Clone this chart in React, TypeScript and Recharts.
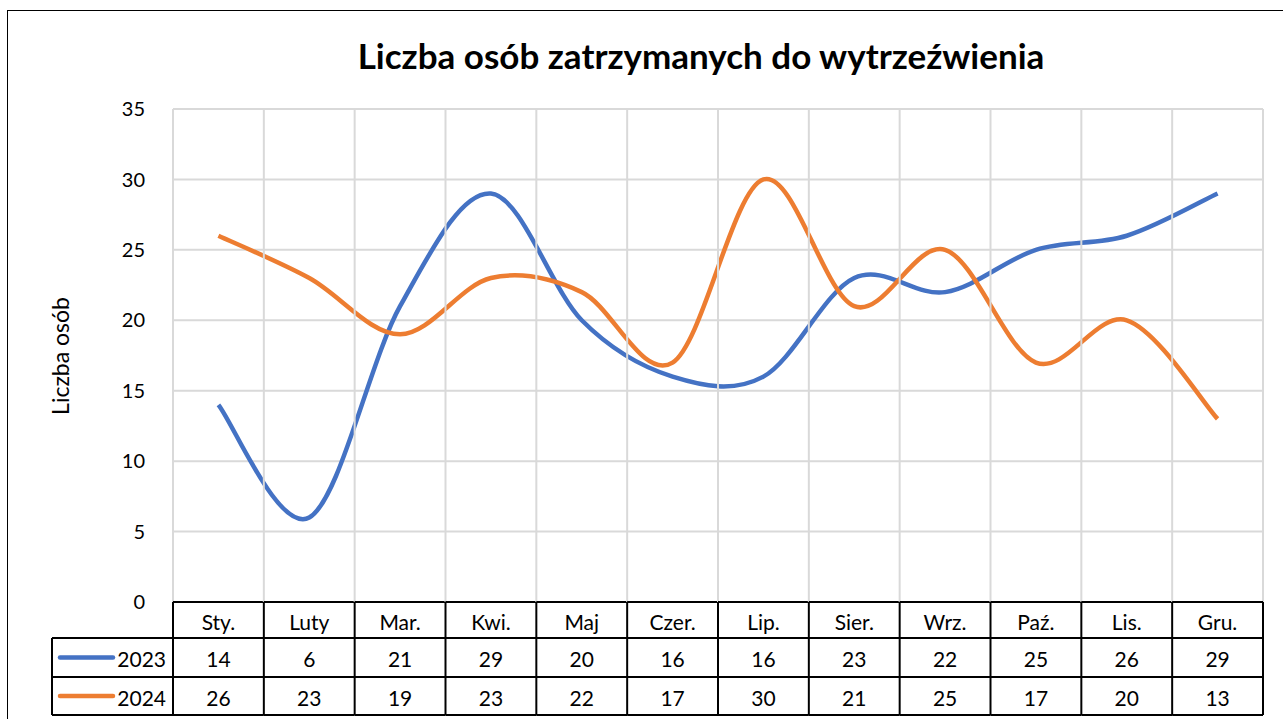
import { LineChart, Line, XAxis, YAxis, CartesianGrid } from 'recharts'

const months = ['Sty.', 'Luty', 'Mar.', 'Kwi.', 'Maj', 'Czer.', 'Lip.', 'Sier.', 'Wrz.', 'Paź.', 'Lis.', 'Gru.']
const values2023 = [14, 6, 21, 29, 20, 16, 16, 23, 22, 25, 26, 29]
const values2024 = [26, 23, 19, 23, 22, 17, 30, 21, 25, 17, 20, 13]
const seriesNames = ['2023', '2024']
const seriesColors = ['#4472C4', '#ED7D31']
const yTicks = [0, 5, 10, 15, 20, 25, 30, 35]

const data = months.map((month, i) => ({
  month,
  v2023: values2023[i],
  v2024: values2024[i],
}))

const W = 1283
const H = 719
const PLOT_LEFT = 173
const PLOT_RIGHT = 1263
const PLOT_TOP = 109
const PLOT_BOTTOM = 602
const BAND = (PLOT_RIGHT - PLOT_LEFT) / months.length
const ROWS = [602, 638, 677, 715]
const LEGEND_LEFT = 52
const FONT = 'Lato, "Open Sans", sans-serif'
const GRID = '#d9d9d9'

// Excel-like smoothed line (bezier through points, 1/6 neighbour tangents)
function excelCurve(context: any) {
  let pts: number[][] = []
  return {
    areaStart() {},
    areaEnd() {},
    lineStart() {
      pts = []
    },
    point(x: number, y: number) {
      pts.push([+x, +y])
    },
    lineEnd() {
      if (!pts.length) return
      context.moveTo(pts[0][0], pts[0][1])
      for (let i = 0; i < pts.length - 1; i++) {
        const p0 = pts[i - 1] || pts[i]
        const p1 = pts[i]
        const p2 = pts[i + 1]
        const p3 = pts[i + 2] || p2
        context.bezierCurveTo(
          p1[0] + (p2[0] - p0[0]) / 6,
          p1[1] + (p2[1] - p0[1]) / 6,
          p2[0] - (p3[0] - p1[0]) / 6,
          p2[1] - (p3[1] - p1[1]) / 6,
          p2[0],
          p2[1],
        )
      }
    },
  }
}

function TableTick(props: any) {
  const { payload, index } = props
  const cx = payload.coordinate
  const left = cx - BAND / 2
  const right = cx + BAND / 2
  const cells = [months[index], values2023[index], values2024[index]]
  const last = index === months.length - 1
  return (
    <g>
      <line x1={left} y1={PLOT_TOP} x2={left} y2={PLOT_BOTTOM} stroke={GRID} strokeWidth={2} />
      {last && <line x1={right} y1={PLOT_TOP} x2={right} y2={PLOT_BOTTOM} stroke={GRID} strokeWidth={2} />}
      {cells.map((c, r) => (
        <text
          key={r}
          x={cx}
          y={(ROWS[r] + ROWS[r + 1]) / 2 + 1}
          textAnchor="middle"
          dominantBaseline="central"
          fontSize={21}
          fontFamily={FONT}
          fill="#000"
        >
          {c}
        </text>
      ))}
      <line x1={left} y1={ROWS[0]} x2={left} y2={ROWS[3]} stroke="#000" strokeWidth={2} />
      {last && <line x1={right} y1={ROWS[0]} x2={right} y2={ROWS[3]} stroke="#000" strokeWidth={2} />}
      {ROWS.map((ry, r) => (
        <line key={'h' + r} x1={left} y1={ry} x2={right} y2={ry} stroke="#000" strokeWidth={2} />
      ))}
      {index === 0 && (
        <g>
          <line x1={LEGEND_LEFT} y1={ROWS[1]} x2={LEGEND_LEFT} y2={ROWS[3]} stroke="#000" strokeWidth={2} />
          {[1, 2, 3].map((r) => (
            <line key={'l' + r} x1={LEGEND_LEFT} y1={ROWS[r]} x2={left} y2={ROWS[r]} stroke="#000" strokeWidth={2} />
          ))}
          {seriesNames.map((name, s) => {
            const cy = (ROWS[s + 1] + ROWS[s + 2]) / 2
            return (
              <g key={name}>
                <line x1={60} y1={cy} x2={113} y2={cy} stroke={seriesColors[s]} strokeWidth={4.5} strokeLinecap="round" />
                <text
                  x={left - 7}
                  y={cy + 1}
                  textAnchor="end"
                  dominantBaseline="central"
                  fontSize={21}
                  fontFamily={FONT}
                  fill="#000"
                >
                  {name}
                </text>
              </g>
            )
          })}
        </g>
      )}
    </g>
  )
}

export default function App() {
  return (
    <div style={{ position: 'fixed', left: 0, top: 0, width: W, height: H, background: '#fff', overflow: 'hidden' }}>
      <div
        style={{
          position: 'absolute',
          left: 7,
          top: 10,
          width: W,
          height: H,
          borderLeft: '1.5px solid #000',
          borderTop: '1.5px solid #000',
        }}
      />
      <div
        style={{
          position: 'absolute',
          left: 0,
          top: 34,
          width: 1402,
          textAlign: 'center',
          fontFamily: FONT,
          fontWeight: 700,
          fontSize: 35,
          color: '#000',
        }}
      >
        Liczba osób zatrzymanych do wytrzeźwienia
      </div>
      <div
        style={{
          position: 'absolute',
          left: 60,
          top: (PLOT_TOP + PLOT_BOTTOM) / 2,
          transform: 'translate(-50%, -50%) rotate(-90deg)',
          fontFamily: FONT,
          fontSize: 23,
          whiteSpace: 'nowrap',
          color: '#000',
        }}
      >
        Liczba osób
      </div>
      <div style={{ position: 'absolute', left: 0, top: 0 }}>
        <LineChart
          width={W}
          height={H}
          data={data}
          margin={{ top: PLOT_TOP, right: W - PLOT_RIGHT, bottom: 0, left: 0 }}
        >
          <CartesianGrid vertical={false} stroke={GRID} strokeWidth={2} />
          <XAxis
            dataKey="month"
            height={H - PLOT_BOTTOM}
            axisLine={false}
            tickLine={false}
            interval={0}
            padding={{ left: BAND / 2, right: BAND / 2 }}
            tick={<TableTick />}
          />
          <YAxis
            width={PLOT_LEFT}
            domain={[0, 35]}
            ticks={yTicks}
            axisLine={false}
            tickLine={false}
            tickMargin={22}
            tick={{ fill: '#000', fontSize: 20, fontFamily: FONT }}
          />
          {seriesNames.map((name, s) => (
            <Line
              key={name}
              dataKey={'v' + name}
              type={excelCurve as any}
              stroke={seriesColors[s]}
              strokeWidth={4.5}
              dot={false}
              activeDot={false}
              isAnimationActive={false}
            />
          ))}
        </LineChart>
      </div>
    </div>
  )
}
